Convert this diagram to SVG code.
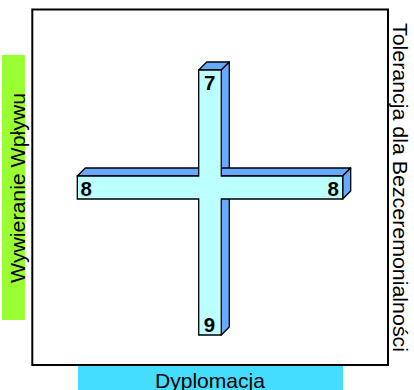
<svg xmlns="http://www.w3.org/2000/svg" width="414" height="390" viewBox="0 0 414 390">
<style>
.side{fill:#66AAFF;stroke:#000;stroke-width:1.3;stroke-linejoin:round}
.front{fill:#BBFFFF;stroke:#000;stroke-width:1.3}
.num{font-family:"Liberation Sans",Arial,sans-serif;font-weight:bold;font-size:20.5px;fill:#000;text-anchor:middle}
.axis{font-family:"Liberation Sans",Arial,sans-serif;font-size:21px;fill:#000}
</style>
<rect width="414" height="390" fill="#fff"/>
<g id="frame">
<rect x="32.3" y="9.5" width="355.7" height="355.5" fill="none" stroke="#000" stroke-width="2"/>
</g>
<g id="axis-left">
<rect x="2" y="55" width="23" height="265" fill="#99FF33"/>
<text class="axis" transform="translate(25,283) rotate(-90)" textLength="190" lengthAdjust="spacingAndGlyphs">Wywieranie Wpływu</text>
</g>
<g id="axis-bottom">
<rect x="78" y="366" width="265" height="24" fill="#44DDFF"/>
<text class="axis" x="155" y="388" textLength="110" lengthAdjust="spacingAndGlyphs">Dyplomacja</text>
</g>
<g id="axis-right">
<text class="axis" transform="translate(393,23) rotate(90)" textLength="329" lengthAdjust="spacingAndGlyphs">Tolerancja dla Bezceremonialności</text>
</g>
<g id="cross">
<polygon class="side" points="198.7,70 206.7,62 229.3,62 221.3,70"/>
<polygon class="side" points="221.3,70 229.3,62 229.3,327 221.3,335"/>
<polygon class="side" points="77.3,176 85.3,168 350.7,168 342.7,176"/>
<polygon class="side" points="342.7,176 350.7,168 350.7,191 342.7,199"/>
<polygon class="front" points="198.7,70 221.3,70 221.3,176 342.7,176 342.7,199 221.3,199 221.3,335 198.7,335 198.7,199 77.3,199 77.3,176 198.7,176"/>
</g>
<g id="labels">
<text class="num" x="209.7" y="89.5">7</text>
<text class="num" x="209.5" y="332">9</text>
<text class="num" x="86.2" y="195.5">8</text>
<text class="num" x="333.3" y="195.5">8</text>
</g>
</svg>
